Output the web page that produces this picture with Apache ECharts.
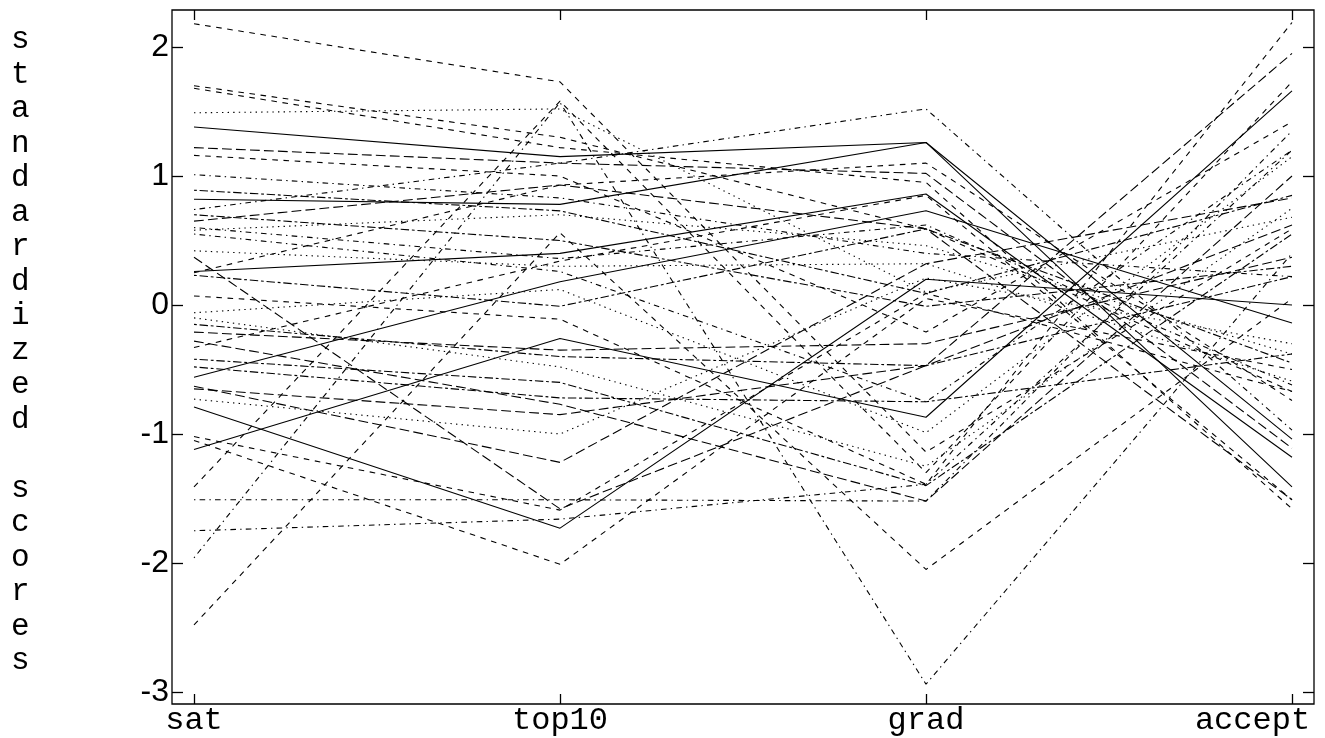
<!DOCTYPE html>
<html>
<head>
<meta charset="utf-8">
<script src="https://cdn.jsdelivr.net/npm/echarts@6.0.0/dist/echarts.min.js"></script>
<style>
  html, body { margin: 0; padding: 0; background: #fff; }
  #chart { width: 1325px; height: 738px; }
</style>
</head>
<body>
<div id="chart"></div>
<script>
// Variables (parallel axes)
const categories = ['sat', 'top10', 'grad', 'accept'];
const yTicks = [-3, -2, -1, 0, 1, 2];
const yTitle = 'standardized scores';

// Standardized scores per observation (one entry per line)
const sat    = [ 1.38, 0.82, 0.26,-0.56,-1.12,-0.79, 2.18, 1.49, 0.74, 1.22, 0.89, 1.70, 1.68, 0.58, 1.01, 0.65, 0.70, 1.16, 0.25, 0.42, 0.55, 0.37, 0.23, 0.07,-0.33,-0.06,-1.96,-0.21,-0.15,-1.41,-2.48,-0.10,-1.51,-0.63,-0.42,-1.02,-1.05,-0.73,-1.75,-0.28,-0.48, 0.60,-0.65];
const top10  = [ 1.15, 0.78, 0.40, 0.18,-0.26,-1.73, 1.73, 1.52, 1.10, 1.10, 0.73, 1.30, 1.22, 0.70, 0.83, 0.93, 0.50, 1.00, 0.93, 0.30, 0.26,-1.58,-0.01,-0.11, 0.34, 0.12, 1.57,-0.35,-0.40, 1.58, 0.56,-0.48,-1.51,-1.22,-0.60,-1.59,-2.01,-1.00,-1.66,-0.77,-0.72, 0.36,-0.85];
const grad   = [ 1.26, 1.26, 0.86, 0.73,-0.87, 0.20,-1.14, 0.10, 1.52, 1.02, 0.09, 0.59, 0.95, 0.46, 0.40, 0.59,-0.01,-0.21, 1.10, 0.32,-0.75,-0.47, 0.59,-1.39, 0.85,-0.99,-2.94,-0.30,-0.47,-1.30,-2.05,-1.25,-1.52, 0.32,-1.40, 0.09, 0.05, 0.21,-1.39,-1.52,-0.75, 0.62,-0.47];
const accept = [-1.04,-1.41,-1.18,-0.14, 1.66, 0.00, 0.59, 0.68,-0.97,-1.11, 0.85,-0.67,-1.58,-0.38, 0.22,-1.51, 0.30, 1.42,-0.74,-0.59, 1.20, 1.95,-0.45, 2.19,-1.51, 1.15, 0.40, 0.37, 0.22, 1.73, 0.05, 0.75, 1.35, 0.83, 0.55,-0.67,-0.50,-0.30, 1.20, 1.00,-0.38,-0.62, 0.62];
// Line type index for each line: 0 solid, 1 dashed, 2 dotted, 3 dotdash, 4 longdash, 5 twodash
const ltyIndex = [0,0,0,0,0,0,1,2,3,4,5,1,1,2,3,4,5,1,1,2,3,4,5,1,1,2,3,4,5,1,1,2,3,4,5,1,1,2,3,4,5,3,4];

const dashes = ['solid', [5.6,5.6], [1.4,4.2], [1.4,4.2,5.6,4.2], [9.8,4.2], [2.8,2.8,8.4,2.8]];

const series = sat.map((_, i) => ({
  type: 'line',
  xAxisIndex: 0,
  yAxisIndex: 0,
  data: [sat[i], top10[i], grad[i], accept[i]],
  symbol: 'none',
  clip: false,
  silent: true,
  lineStyle: { color: '#000', width: 1.1, type: dashes[ltyIndex[i]] }
}));

const tickStyle = { color: '#000', width: 1.3 };
const lastCat = categories[categories.length - 1];
const chart = echarts.init(document.getElementById('chart'), null, { renderer: 'canvas' });
chart.setOption({
  animation: false,
  backgroundColor: '#fff',
  grid: [
    { left: 194, top: 47, width: 1098, height: 645, show: false, containLabel: false, outerBoundsMode: 'none' },
    { left: 172, top: 10, width: 1142, height: 694, show: true, borderColor: '#000', borderWidth: 1.3, backgroundColor: 'transparent', containLabel: false, outerBoundsMode: 'none' }
  ],
  xAxis: [
    { gridIndex: 0, type: 'category', data: categories, boundaryGap: false, position: 'bottom', offset: 12,
      axisLine: { show: false, onZero: false }, splitLine: { show: false },
      axisTick: { show: true, inside: true, length: 10, lineStyle: tickStyle },
      axisLabel: { color: '#000', fontFamily: 'Liberation Mono', fontSize: 32, margin: 1, hideOverlap: false,
        formatter: v => v === lastCat ? '{last|' + v + '}' : v,
        rich: { last: { fontFamily: 'Liberation Mono', fontSize: 32, color: '#000', padding: [0, 79, 0, 0] } } } },
    { gridIndex: 0, type: 'category', data: categories, boundaryGap: false, position: 'top', offset: 37,
      axisLine: { show: false, onZero: false }, splitLine: { show: false },
      axisTick: { show: true, inside: true, length: 10, lineStyle: tickStyle },
      axisLabel: { show: false } },
    { gridIndex: 1, type: 'value', show: false }
  ],
  yAxis: [
    { gridIndex: 0, type: 'value', min: yTicks[0], max: yTicks[yTicks.length - 1], interval: 1, position: 'left', offset: 22,
      axisLine: { show: false, onZero: false }, splitLine: { show: false },
      axisTick: { show: true, inside: true, length: 11, lineStyle: tickStyle },
      axisLabel: { color: '#000', fontFamily: 'Liberation Sans', fontSize: 32, margin: 3 } },
    { gridIndex: 0, type: 'value', min: yTicks[0], max: yTicks[yTicks.length - 1], interval: 1, position: 'right', offset: 22,
      axisLine: { show: false, onZero: false }, splitLine: { show: false },
      axisTick: { show: true, inside: true, length: 11, lineStyle: tickStyle },
      axisLabel: { show: false } },
    { gridIndex: 1, type: 'value', show: false }
  ],
  graphic: [{
    type: 'text',
    left: 11,
    top: 23,
    style: {
      text: yTitle.split('').join('\n'),
      fill: '#000',
      font: '31px "Liberation Mono"',
      lineHeight: 34.5,
      align: 'left'
    }
  }],
  series: series
});
</script>
</body>
</html>
